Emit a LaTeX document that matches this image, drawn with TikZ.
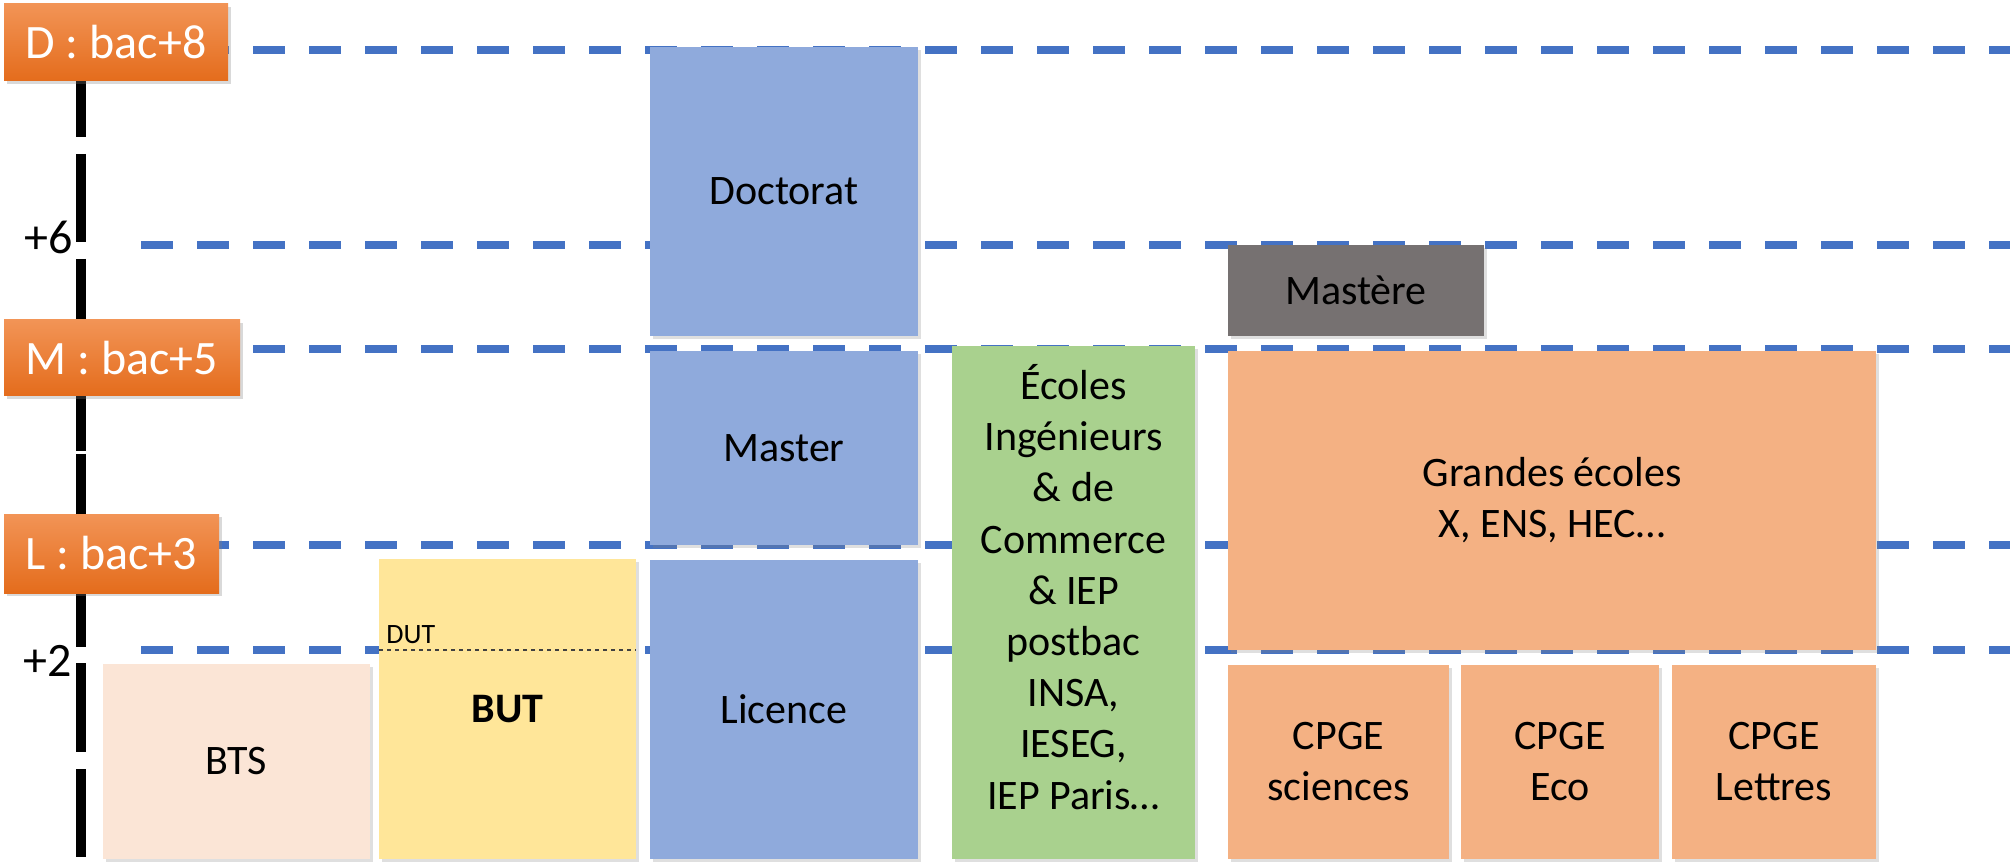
\documentclass[tikz,border=0pt]{standalone}
\usepackage{fontspec}
\setmainfont{Carlito}
\usetikzlibrary{shadows}
\definecolor{lineblue}{HTML}{4472C4}
\definecolor{boxblue}{HTML}{8FAADC}
\definecolor{btsfill}{HTML}{FBE5D6}
\definecolor{butfill}{HTML}{FFE699}
\definecolor{greenfill}{HTML}{A9D18E}
\definecolor{orangefill}{HTML}{F4B183}
\definecolor{grayfill}{HTML}{767171}
\definecolor{labtop}{HTML}{F29456}
\definecolor{labbot}{HTML}{E46C1C}
\definecolor{dotgray}{HTML}{404040}
\begin{document}
\begin{tikzpicture}[x=0.5pt,y=-0.5pt,
  level/.style={draw=lineblue, line width=4pt, dash pattern=on 16pt off 12pt},
  axisseg/.style={line width=5pt, black},
  box/.style={draw=none, inner sep=0pt, font=\fontsize{21}{25.5}\selectfont, align=center,
    drop shadow={shadow xshift=1.5pt, shadow yshift=-1.5pt, opacity=0.25}},
  lab/.style={top color=labtop, bottom color=labbot, text=white, inner sep=0pt,
    font=\fontsize{24}{28}\selectfont,
    drop shadow={shadow xshift=1.5pt, shadow yshift=-1.5pt, opacity=0.3}},
  tick/.style={inner sep=0pt, font=\fontsize{24}{28}\selectfont, anchor=base east},
  txt/.style={inner sep=0pt, font=\fontsize{21}{25.6}\selectfont, align=center},
]
\useasboundingbox (0,0) rectangle (2010,866);

% level lines
\coordinate (l8a) at (141,50);  \coordinate (l8b) at (2010,50);
\coordinate (l6a) at (141,245); \coordinate (l6b) at (2010,245);
\coordinate (l5a) at (141,349); \coordinate (l5b) at (2010,349);
\coordinate (l3a) at (141,545); \coordinate (l3b) at (2010,545);
\coordinate (l2a) at (141,650); \coordinate (l2b) at (2010,650);
\draw[level] (l8a) -- (l8b);
\draw[level] (l6a) -- (l6b);
\draw[level] (l5a) -- (l5b);
\draw[level] (l3a) -- (l3b);
\draw[level] (l2a) -- (l2b);

% vertical axis
\draw[axisseg] (81,49) -- (81,137);
\draw[axisseg] (81,154) -- (81,242);
\draw[axisseg] (81,259) -- (81,451);
\draw[axisseg] (81,454) -- (81,647);
\draw[axisseg] (81,663) -- (81,752);
\draw[axisseg] (81,769) -- (81,857);

% tick labels
\node[tick] (t6) at (73,254) {+6};
\node[tick] (t2) at (72,676) {+2};

% level labels
\node[lab, minimum width=112pt, minimum height=38.5pt] (D) at (116,42.5) {D : bac+8};
\node[lab, minimum width=118pt, minimum height=38pt] (M) at (122,358) {M : bac+5};
\node[lab, minimum width=107.5pt, minimum height=39.5pt] (L) at (111.5,553.5) {L : bac+3};

% boxes
\node[box, fill=btsfill, minimum width=133.5pt, minimum height=97.5pt] (bts) at (236.5,761.5) {BTS};
\node[box, fill=butfill, minimum width=128.5pt, minimum height=150pt] (but) at (507.5,709) {\textbf{BUT}};
\coordinate (dutA) at (379,650); \coordinate (dutB) at (636,650);
\draw[dotgray, line width=1pt, dash pattern=on 2pt off 2pt] (dutA) -- (dutB);
\node[inner sep=0pt, anchor=base west, font=\fontsize{14}{16}\selectfont] (dut) at (386,643) {DUT};

\node[box, fill=boxblue, minimum width=134pt, minimum height=149.5pt] (lic) at (784,709.5) {Licence};
\node[box, fill=boxblue, minimum width=134pt, minimum height=97pt] (mas) at (784,448) {Master};
\node[box, fill=boxblue, minimum width=134pt, minimum height=144.5pt] (doc) at (784,191.5) {\raisebox{-2pt}{Doctorat}};

\node[box, fill=greenfill, minimum width=121.5pt, minimum height=256.5pt] (eco) at (1073.5,602.5) {};
\node[txt] (ecotxt) at (1073.5,587) {Écoles\\Ingénieurs\\\& de\\Commerce\\\& IEP\\postbac\\INSA,\\IESEG,\\IEP Paris…};

\node[box, fill=grayfill, minimum width=128pt, minimum height=45.5pt] (mst) at (1356,290.5) {Mastère};
\node[box, fill=orangefill, minimum width=324pt, minimum height=149.5pt] (ge) at (1552,500.5) {Grandes écoles\\X, ENS, HEC…};
\node[box, fill=orangefill, minimum width=110.5pt, minimum height=97pt] (cs) at (1338.5,762) {CPGE\\sciences};
\node[box, fill=orangefill, minimum width=99pt, minimum height=97pt] (ce) at (1560,762) {CPGE\\Eco};
\node[box, fill=orangefill, minimum width=102pt, minimum height=97pt] (cl) at (1774,762) {CPGE\\Lettres};
\end{tikzpicture}
\end{document}
